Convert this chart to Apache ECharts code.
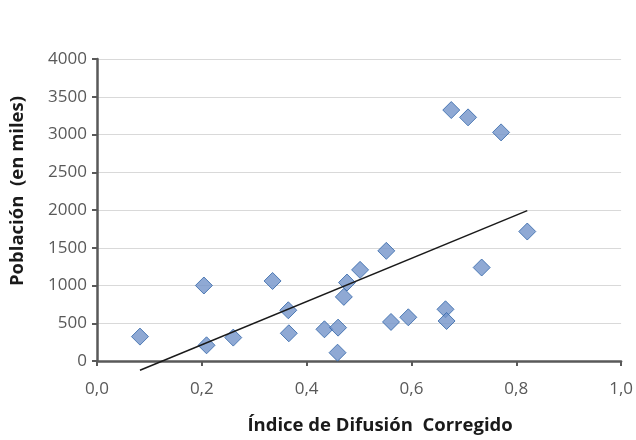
<!DOCTYPE html>
<html>
<head>
<meta charset="utf-8">
<script src="https://cdn.jsdelivr.net/npm/echarts@6/dist/echarts.min.js"></script>
<style>html,body{margin:0;padding:0;background:#fff}#c{width:636px;height:440px}</style>
</head>
<body>
<div id="c"></div>
<script>
const indice = [0.082,0.204,0.209,0.260,0.335,0.365,0.366,0.434,0.460,0.459,0.471,0.477,0.502,0.552,0.561,0.594,0.665,0.667,0.676,0.708,0.734,0.771,0.821];
const poblacion = [323,1000,208,310,1060,672,367,420,442,110,849,1039,1207,1459,517,579,685,530,3324,3227,1238,3028,1715];
const xTitle = 'Índice de Difusión  Corregido';
const yTitle = 'Población  (en miles)';

const pts = indice.map((x,i)=>[x,poblacion[i]]);
// Linear least-squares trendline
const n = indice.length;
const mx = indice.reduce((a,b)=>a+b,0)/n;
const my = poblacion.reduce((a,b)=>a+b,0)/n;
let sxy=0,sxx=0;
for(let i=0;i<n;i++){sxy+=(indice[i]-mx)*(poblacion[i]-my);sxx+=(indice[i]-mx)**2;}
const slope=sxy/sxx, icpt=my-slope*mx;
const xmin=Math.min(...indice), xmax=Math.max(...indice);
const trend=[[xmin,icpt+slope*xmin],[xmax,icpt+slope*xmax]];

const font='"Open Sans", "Noto Sans", sans-serif';
const chart=echarts.init(document.getElementById('c'),null,{renderer:'canvas'});
chart.setOption({
  animation:false,
  grid:{left:97,right:11,top:59,bottom:78,containLabel:false},
  xAxis:{type:'value',min:0,max:1,interval:0.2,
    name:xTitle,nameLocation:'middle',nameGap:55,
    nameTextStyle:{fontFamily:font,fontSize:18.5,fontWeight:'bold',color:'#1a1a1a',padding:[0,0,0,42]},
    axisLine:{show:true,lineStyle:{color:'#595959',width:2.5}},
    axisTick:{show:true,length:5,lineStyle:{color:'#595959',width:2}},
    axisLabel:{fontFamily:font,fontSize:17,color:'#595959',margin:20,
      formatter:v=>v.toFixed(1).replace('.',',')},
    splitLine:{show:false}},
  yAxis:{type:'value',min:0,max:4000,interval:500,
    name:yTitle,nameLocation:'middle',nameGap:70,nameRotate:90,
    nameTextStyle:{fontFamily:font,fontSize:18.5,fontWeight:'bold',color:'#1a1a1a',padding:[0,0,0,38]},
    axisLine:{show:true,lineStyle:{color:'#595959',width:2.5}},
    axisTick:{show:true,length:5,lineStyle:{color:'#595959',width:2}},
    axisLabel:{fontFamily:font,fontSize:17,color:'#595959',margin:10,formatter:v=>String(v)},
    splitLine:{show:true,lineStyle:{color:'#d9d9d9',width:1}}},
  series:[
    {type:'line',data:trend,symbol:'none',clip:false,silent:true,
      lineStyle:{color:'#1a1a1a',width:1.5},z:3},
    {type:'scatter',data:pts,symbol:'diamond',symbolSize:17,
      itemStyle:{color:'#7393c9',borderColor:'#2f64a8',borderWidth:1},z:2}
  ]
});
</script>
</body>
</html>
